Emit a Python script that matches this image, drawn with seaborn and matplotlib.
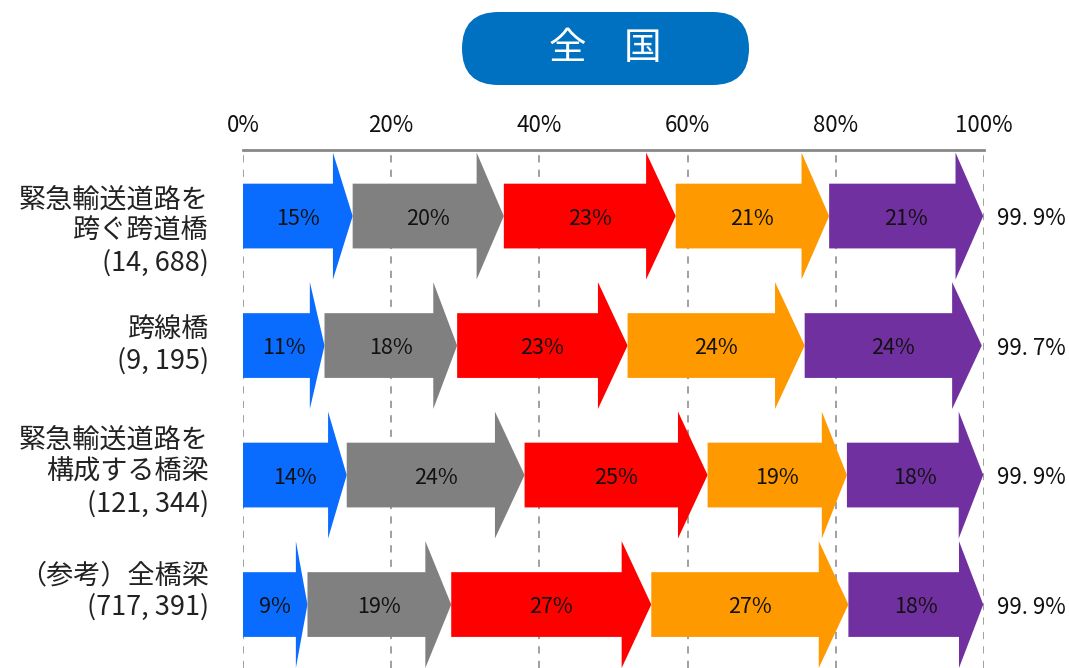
import matplotlib.pyplot as plt
import seaborn as sns
import pandas as pd
from matplotlib.patches import Polygon, FancyBboxPatch

# data (share of bridges per stage, %)
categories = [
    "緊急輸送道路を\n跨ぐ跨道橋\n(14, 688)",
    "跨線橋\n(9, 195)",
    "緊急輸送道路を\n構成する橋梁\n(121, 344)",
    "（参考）全橋梁\n(717, 391)",
]
stage1 = [14.8, 11.0, 14.0, 8.7]
stage2 = [20.4, 17.9, 24.0, 19.4]
stage3 = [23.2, 23.0, 24.7, 27.0]
stage4 = [20.7, 23.9, 18.8, 26.6]
stage5 = [20.8, 23.9, 18.4, 18.2]
seg_labels = [
    ["15%", "20%", "23%", "21%", "21%"],
    ["11%", "18%", "23%", "24%", "24%"],
    ["14%", "24%", "25%", "19%", "18%"],
    ["9%", "19%", "27%", "27%", "18%"],
]
totals = ["99. 9%", "99. 7%", "99. 9%", "99. 9%"]
ticks = [0, 20, 40, 60, 80, 100]
tick_labels = ["0%", "20%", "40%", "60%", "80%", "100%"]
title = "全　国"

colors = ["#0A6CFF", "#808080", "#FF0000", "#FF9900", "#7030A0"]

sns.set_theme(style="white")
plt.rcParams["font.family"] = ["Noto Sans CJK JP", "DejaVu Sans"]

df = pd.DataFrame({"cat": categories, "s1": stage1, "s2": stage2,
                   "s3": stage3, "s4": stage4, "s5": stage5})
stages = ["s1", "s2", "s3", "s4", "s5"]

fig = plt.figure(figsize=(10.69, 6.68), dpi=100)
ax = fig.add_axes([243 / 1069, 0, (984 - 243) / 1069, 1 - 150 / 668])

body = 0.25
head = 0.49
for i, row in df.iterrows():
    left = 0.0
    for j, s in enumerate(stages):
        v = row[s]
        right = left + v
        hl = min(4.0, 0.18 * v)
        pts = [(left, i - body), (right - hl, i - body), (right - hl, i - head),
               (right, i), (right - hl, i + head), (right - hl, i + body),
               (left, i + body)]
        ax.add_patch(Polygon(pts, closed=True, facecolor=colors[j],
                             edgecolor="none", zorder=3))
        ax.text((left + right) / 2, i + 0.02, seg_labels[i][j], ha="center",
                va="center", fontsize=15.5, color="#111111", zorder=4)
        left = right
    ax.text(101.7, i + 0.02, totals[i], ha="left", va="center", fontsize=16,
            color="#111111", clip_on=False)

# category labels at the left
offsets = [0.12, 0.0, -0.02, -0.1]
for i, c in enumerate(categories):
    ax.text(-4.6, i + offsets[i], c, ha="right", va="center", fontsize=19.5,
            color="#222222", linespacing=1.22, multialignment="right",
            clip_on=False)

ax.set_xlim(0, 100)
ax.set_ylim(3.49, -0.51)
ax.set_xticks(ticks)
ax.set_xticklabels(tick_labels, fontsize=16, color="#111111")
ax.xaxis.tick_top()
ax.tick_params(axis="x", length=0, pad=9)
ax.set_yticks([])
for t in ticks:
    ax.axvline(t, color="#999999", linestyle=(0, (4, 4)), linewidth=1.3,
               zorder=1)
for side in ["left", "right", "bottom"]:
    ax.spines[side].set_visible(False)
ax.spines["top"].set_color("#888888")
ax.spines["top"].set_linewidth(2)

# title badge
badge = FancyBboxPatch((4.62, 5.83), 2.87, 0.73,
                       boxstyle="round,pad=0,rounding_size=0.365",
                       transform=fig.dpi_scale_trans, facecolor="#0070C0",
                       edgecolor="none")
fig.patches.append(badge)
fig.text(6.055, 6.195, title, transform=fig.dpi_scale_trans, ha="center",
         va="center", fontsize=27, color="white")

fig.savefig("out.png", dpi=100)
